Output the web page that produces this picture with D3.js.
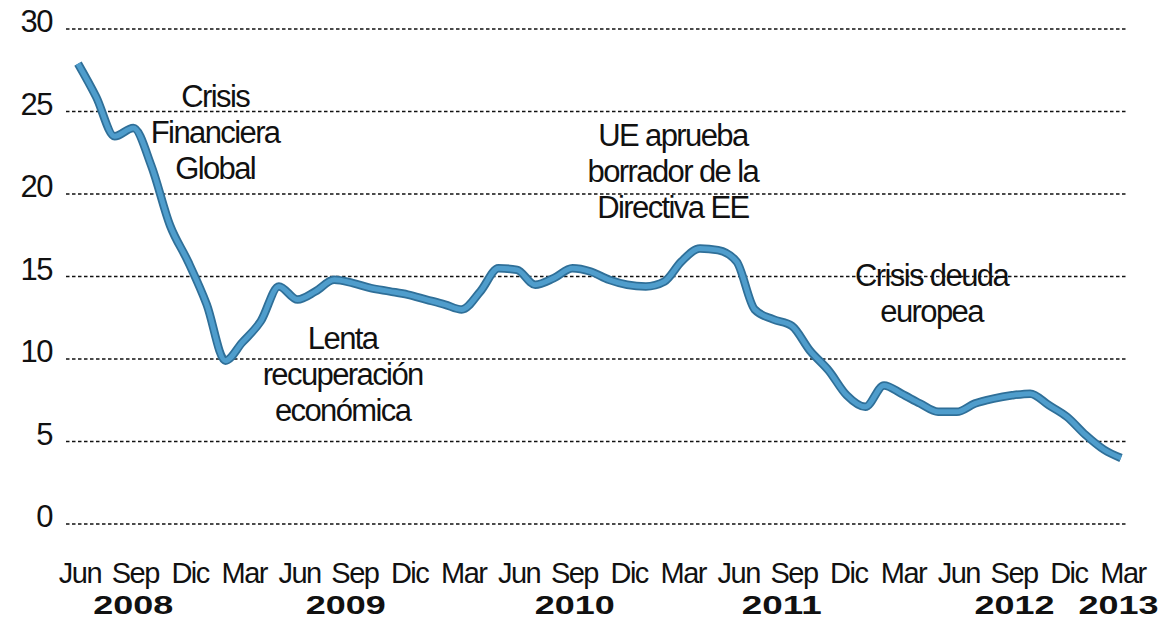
<!DOCTYPE html>
<html>
<head>
<meta charset="utf-8">
<style>
  body { margin: 0; background: #fff; }
  svg { display: block; }
  text { font-family: "Liberation Sans", Arial, sans-serif; fill: #111; }
</style>
</head>
<body>
<svg width="1161" height="620"></svg>
<script src="https://cdn.jsdelivr.net/npm/d3@7"></script>
<script>

// monthly values, Jun 2008 .. Mar 2013
var startMonth = "2008-06";
var values = [
  27.9, 25.9, 23.5, 24.0, 21.7, 18.1, 15.9, 13.3, 9.9, 11.0,
  12.3, 14.4, 13.6, 14.1, 14.8, 14.6, 14.3, 14.1, 13.9, 13.6,
  13.3, 13.0, 14.1, 15.5, 15.4, 14.5, 14.9, 15.5, 15.3, 14.8,
  14.5, 14.4, 14.7, 15.9, 16.7, 16.6, 15.9, 13.0, 12.4, 12.0,
  10.5, 9.3, 7.8, 7.1, 8.4, 7.9, 7.3, 6.8, 6.8, 7.3,
  7.6, 7.8, 7.9, 7.2, 6.5, 5.4, 4.5, 4.0
];

var yTicks = [0, 5, 10, 15, 20, 25, 30];
var monthNames = {3: "Mar", 6: "Jun", 9: "Sep", 12: "Dic"};

// year labels and the month they sit under
var yearLabels = [
  {year: "2008", at: "2008-09-01"},
  {year: "2009", at: "2009-08-20"},
  {year: "2010", at: "2010-09-05"},
  {year: "2011", at: "2011-08-15"},
  {year: "2012", at: "2012-09-05"},
  {year: "2013", at: "2013-02-25"}
];

var notes = [
  {lines: ["Crisis", "Financiera", "Global"], at: "2009-01-15", v: 25.3},
  {lines: ["Lenta", "recuperación", "económica"], at: "2009-08-15", v: 10.6},
  {lines: ["UE aprueba", "borrador de la", "Directiva EE"], at: "2011-02-15", v: 22.9},
  {lines: ["Crisis deuda", "europea"], at: "2012-04-20", v: 14.4}
];

var parseMonth = d3.timeParse("%Y-%m");
var parseDay = d3.timeParse("%Y-%m-%d");
var start = parseMonth(startMonth);

var data = values.map(function(v, i) {
  return {date: d3.timeMonth.offset(start, i), value: v};
});

var svg = d3.select("svg");

var x = d3.scaleTime()
    .domain(d3.extent(data, function(d) { return d.date; }))
    .range([78, 1121]);

var y = d3.scaleLinear()
    .domain([0, 30])
    .range([524, 29]);

// dotted gridlines
svg.append("g")
  .selectAll("line")
  .data(yTicks)
  .enter().append("line")
    .attr("x1", 66)
    .attr("x2", 1128)
    .attr("y1", function(d) { return y(d); })
    .attr("y2", function(d) { return y(d); })
    .attr("stroke", "#111")
    .attr("stroke-width", 1.6)
    .attr("stroke-dasharray", "3.5,2.5");

// y labels
svg.append("g")
  .selectAll("text")
  .data(yTicks)
  .enter().append("text")
    .attr("x", 52)
    .attr("y", function(d) { return y(d) + 3; })
    .attr("text-anchor", "end")
    .style("font-size", "31px")
    .style("letter-spacing", "-1.5px")
    .text(function(d) { return d; });

// month labels every quarter from the first month
var quarters = d3.range(0, values.length, 3).map(function(i) {
  return d3.timeMonth.offset(start, i);
});
svg.append("g")
  .selectAll("text")
  .data(quarters)
  .enter().append("text")
    .attr("x", function(d) { return x(d) + 2; })
    .attr("y", 583)
    .attr("text-anchor", "middle")
    .style("font-size", "29px")
    .style("letter-spacing", "-1.5px")
    .text(function(d) { return monthNames[d.getMonth() + 1]; });

svg.append("g")
  .selectAll("text")
  .data(yearLabels)
  .enter().append("text")
    .attr("x", function(d) { return x(parseDay(d.at)); })
    .attr("y", 614)
    .attr("text-anchor", "middle")
    .attr("textLength", 80)
    .attr("lengthAdjust", "spacingAndGlyphs")
    .style("font-size", "25px")
    .style("font-weight", "bold")
    .text(function(d) { return d.year; });

// line
var line = d3.line()
    .curve(d3.curveMonotoneX)
    .x(function(d) { return x(d.date); })
    .y(function(d) { return y(d.value); });

svg.append("path")
    .datum(data)
    .attr("fill", "none")
    .attr("stroke", "#2f6f98")
    .attr("stroke-width", 8.5)
    .attr("stroke-linejoin", "round")
    .attr("d", line);

svg.append("path")
    .datum(data)
    .attr("fill", "none")
    .attr("stroke", "#4f9dcc")
    .attr("stroke-width", 5)
    .attr("stroke-linejoin", "round")
    .attr("d", line);

// annotations
notes.forEach(function(n) {
  var t = svg.append("text")
      .attr("x", x(parseDay(n.at)))
      .attr("y", y(n.v))
      .attr("text-anchor", "middle")
      .style("font-size", "31px")
      .style("letter-spacing", "-1.6px");
  t.selectAll("tspan")
    .data(n.lines)
    .enter().append("tspan")
      .attr("x", x(parseDay(n.at)))
      .attr("dy", function(d, i) { return i ? 36 : 0; })
      .text(function(d) { return d; });
});

</script>
</body>
</html>
